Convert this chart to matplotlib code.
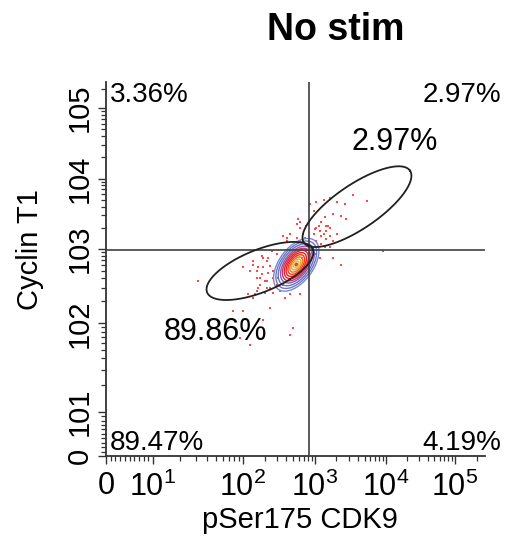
import numpy as np
import matplotlib
matplotlib.use("Agg")
import matplotlib.pyplot as plt
from matplotlib.ticker import FixedLocator, FixedFormatter

plt.rcParams['font.family'] = ['Liberation Sans', 'DejaVu Sans']
plt.rcParams['mathtext.fontset'] = 'custom'
plt.rcParams['mathtext.rm'] = 'Liberation Sans'
plt.rcParams['mathtext.it'] = 'Liberation Sans:italic'

# ---------------- data ----------------
title = "No stim"
x_label = "pSer175 CDK9"
y_label = "Cyclin T1"
major_vals = [0, 10, 100, 1000, 10000, 100000]
x_tick_labels = ['0', r'$10^1$', r'$10^2$', r'$10^3$', r'$10^4$', r'$10^5$']
y_tick_labels = ['0', '101', '102', '103', '104', '105']
axis_max = 262144

quad_x = 826      # vertical quadrant gate
quad_y = 968      # horizontal quadrant gate
quad_pcts = ['3.36%', '2.97%', '89.47%', '4.19%']   # UL, UR, LL, LR
gate_pcts = ['2.97%', '89.86%']                     # upper ellipse, lower ellipse

# population centre / spread (log10 units) for density contours
pop_center_log = (2.74, 2.79)
pop_sigma_major = 0.17
pop_sigma_minor = 0.095
pop_angle_deg = 52

# outlier events (log10 intensity)
dots_lx = [2.77, 2.79, 2.93, 3.02, 3.12, 3.21, 3.31, 3.42, 3.54, 3.73, 3.26, 3.37, 3.44,
           3.21, 3.12, 3.07, 3.16, 3.05, 3.00, 3.09, 3.14, 2.98, 2.88, 2.86, 3.26, 3.37,
           3.96, 3.21, 3.31, 3.19, 3.09, 3.02, 3.16,
           1.50, 2.00, 2.10, 2.19, 2.24, 2.28, 2.33, 2.38, 2.42, 2.19, 2.14, 2.07, 2.26,
           2.31, 2.47, 2.51, 2.58, 2.65, 2.79, 2.38, 2.28, 2.00, 1.89, 2.70, 2.65, 1.97,
           2.10, 2.40, 2.47, 2.14, 2.21, 2.33, 2.42, 2.56, 2.49, 2.35,
           2.75, 2.79, 2.84, 2.65, 2.61, 2.88, 2.93, 2.82,
           2.14, 2.19, 2.24, 2.28, 2.33, 2.21, 2.38, 2.31, 2.17, 2.42, 2.26, 2.35, 2.56,
           2.61, 2.98, 3.02, 3.16, 3.21, 3.09, 3.14, 3.26, 3.00, 3.07, 2.75, 2.79]
dots_ly = [3.42, 3.38, 3.64, 3.66, 3.69, 3.73, 3.66, 3.64, 3.76, 3.68, 3.50, 3.47, 3.42,
           3.30, 3.21, 3.26, 3.14, 3.33, 3.28, 3.38, 3.45, 3.54, 3.33, 3.16, 2.88, 2.79,
           2.97, 3.02, 3.21, 3.33, 3.19, 3.11, 3.26,
           2.57, 2.75, 2.70, 2.61, 2.52, 2.88, 2.84, 2.77, 2.70, 2.43, 2.34, 2.39, 2.66,
           2.57, 2.52, 2.43, 2.34, 2.39, 2.39, 2.21, 2.05, 2.16, 2.16, 1.95, 1.87, 1.83,
           1.76, 2.97, 2.93, 2.84, 2.75, 2.48, 2.61, 2.52, 2.61, 2.68,
           3.16, 3.11, 3.21, 3.21, 3.16, 2.97, 2.93, 2.88,
           2.79, 2.70, 2.61, 2.75, 2.57, 2.48, 2.48, 2.41, 2.39, 2.41, 2.91, 2.88, 3.19,
           3.11, 3.21, 3.30, 3.33, 3.19, 3.07, 3.02, 3.11, 2.93, 2.88, 3.35, 3.30]

# elliptical gates: centre values, semi-axes (scale units), angle
gate_upper = dict(cx=3900, cy=3980, a=64, b=22, ang=34)
gate_lower = dict(cx=172, cy=505, a=57, b=21, ang=22)

# ---------------- biexponential-like display scale ----------------
T_anchor = np.array([0, 1, 2, 3, 4, 5, np.log10(axis_max)])
UX = np.array([0, 47, 137, 209, 280, 349, 379], float)
UY = np.array([2, 46, 134, 208, 278, 348, 374], float)


def make_scale(U):
    def fwd(v):
        v = np.asarray(v, float)
        t = np.where(v < 10, v / 10.0, np.log10(np.maximum(v, 10)))
        u = np.interp(t, T_anchor, U)
        lo = U[0] + t * (U[1] - U[0])
        s = (U[-1] - U[-2]) / (T_anchor[-1] - T_anchor[-2])
        hi = U[-1] + (t - T_anchor[-1]) * s
        u = np.where(t < 0, lo, u)
        u = np.where(t > T_anchor[-1], hi, u)
        return u

    def inv(u):
        u = np.asarray(u, float)
        t = np.interp(u, U, T_anchor)
        lo = (u - U[0]) / (U[1] - U[0])
        s = (U[-1] - U[-2]) / (T_anchor[-1] - T_anchor[-2])
        hi = T_anchor[-1] + (u - U[-1]) / s
        t = np.where(u < U[0], lo, t)
        t = np.where(u > U[-1], hi, t)
        t = np.clip(t, -50, 20)
        return np.where(t < 1, t * 10.0, 10 ** t)
    return fwd, inv

fx, ix = make_scale(UX)
fy, iy = make_scale(UY)

# ---------------- figure ----------------
W, H = 505, 545
fig = plt.figure(figsize=(W / 100, H / 100), dpi=100)
ax_l, ax_r, ax_t, ax_b = 106, 485, 82, 456
ax = fig.add_axes([ax_l / W, (H - ax_b) / H, (ax_r - ax_l) / W, (ax_b - ax_t) / H])
ax.set_xscale('function', functions=(fx, ix))
ax.set_yscale('function', functions=(fy, iy))
ax.set_xlim(0, axis_max)
ax.set_ylim(0, axis_max)

# density contours
lx = np.linspace(1.6, 4.0, 300)
ly = np.linspace(1.6, 4.0, 300)
LX, LY = np.meshgrid(lx, ly)
th = np.deg2rad(pop_angle_deg)
dx = LX - pop_center_log[0]
dy = LY - pop_center_log[1]
p = dx * np.cos(th) + dy * np.sin(th)
q = -dx * np.sin(th) + dy * np.cos(th)
R2 = (p / pop_sigma_major) ** 2 + (q / pop_sigma_minor) ** 2
Z = np.exp(-R2 / 2)
radii = [2.45, 2.2, 1.95, 1.7, 1.5, 1.3, 1.1, 0.9, 0.7, 0.5, 0.3, 0.12]
levels = sorted(np.exp(-np.array(radii) ** 2 / 2))
cols = ['#7888d2', '#6c78c6', '#6a6ec0', '#8a5aae', '#c03870', '#ec2030',
        '#f21a1a', '#f43a14', '#f27018', '#e8a828', '#d8c448', '#e04020']
ax.scatter(10 ** np.array(dots_lx), 10 ** np.array(dots_ly), s=4.5, marker='s',
           color='#ff4848', linewidths=0, zorder=2)
ax.contour(10 ** LX, 10 ** LY, Z, levels=levels, colors=cols, linewidths=1.0, zorder=3)

# quadrant gates
ax.axvline(quad_x, color='#404040', lw=1.2, zorder=4)
ax.axhline(quad_y, color='#404040', lw=1.2, zorder=4)

# ellipse gates
for g in (gate_upper, gate_lower):
    tt = np.linspace(0, 2 * np.pi, 200)
    ang = np.deg2rad(g['ang'])
    cu, cv = fx(g['cx']), fy(g['cy'])
    eu = cu + g['a'] * np.cos(tt) * np.cos(ang) - g['b'] * np.sin(tt) * np.sin(ang)
    ev = cv + g['a'] * np.cos(tt) * np.sin(ang) + g['b'] * np.sin(tt) * np.cos(ang)
    ax.plot(ix(eu), iy(ev), color='#202020', lw=1.3, zorder=5)

# ticks
minor_vals = list(range(1, 10)) + [k * 10 ** n for n in range(1, 5) for k in range(2, 10)] + [200000]
for axis, labels in ((ax.xaxis, x_tick_labels), (ax.yaxis, y_tick_labels)):
    axis.set_major_locator(FixedLocator(major_vals))
    axis.set_major_formatter(FixedFormatter(labels))
    axis.set_minor_locator(FixedLocator(minor_vals))
ax.tick_params(which='major', direction='out', length=6, width=1, labelsize=21, color='#333333')
ax.tick_params(which='minor', direction='out', length=3.3, width=0.9, color='#333333')
ax.tick_params(axis='x', which='major', pad=5, labelsize=22)
ax.tick_params(axis='y', which='major', pad=3)
for lab in ax.get_yticklabels():
    lab.set_rotation(90)
    lab.set_va('center')

for s in ('top', 'right'):
    ax.spines[s].set_visible(False)
for s in ('left', 'bottom'):
    ax.spines[s].set_linewidth(1.3)
    ax.spines[s].set_color('#333333')

# percentage labels
axw, axh = ax_r - ax_l, ax_b - ax_t
def axpos(px, py):
    return ((px - ax_l) / axw, (ax_b - py) / axh)

ax.text(*axpos(110, 82), quad_pcts[0], transform=ax.transAxes, ha='left', va='top', fontsize=20)
ax.text(*axpos(501, 82), quad_pcts[1], transform=ax.transAxes, ha='right', va='top', fontsize=20, clip_on=False)
ax.text(*axpos(110, 450), quad_pcts[2], transform=ax.transAxes, ha='left', va='baseline', fontsize=20)
ax.text(*axpos(501, 450), quad_pcts[3], transform=ax.transAxes, ha='right', va='baseline', fontsize=20, clip_on=False)
ax.text(*axpos(395, 142), gate_pcts[0], transform=ax.transAxes, ha='center', va='center', fontsize=22)
ax.text(*axpos(215, 332), gate_pcts[1], transform=ax.transAxes, ha='center', va='center', fontsize=22)

fig.text(336 / W, 1 - 30 / H, title, ha='center', va='center', fontsize=27, fontweight='bold')
fig.text(300 / W, 1 - 520 / H, x_label, ha='center', va='center', fontsize=21)
fig.text(30 / W, 1 - 250 / H, y_label, ha='center', va='center', fontsize=21, rotation=90)

fig.savefig('out.png', dpi=100)
